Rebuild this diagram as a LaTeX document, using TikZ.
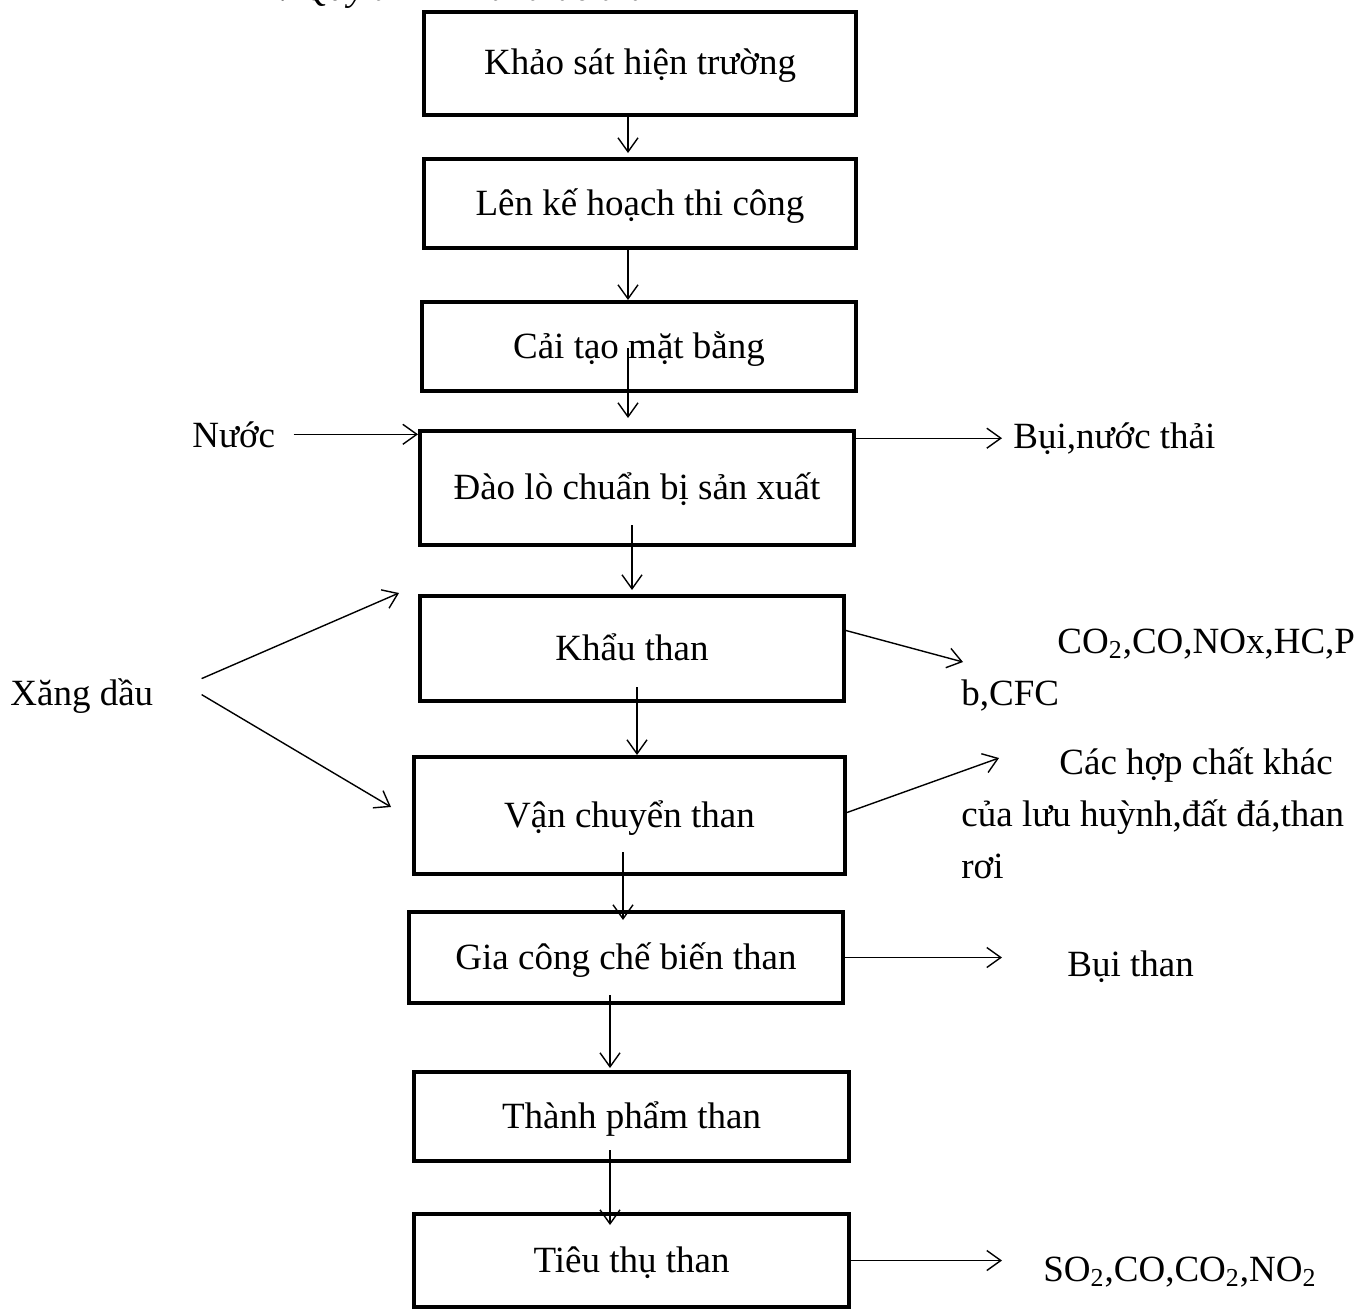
\documentclass[tikz,border=0pt]{standalone}
\usepackage{fontspec}
\setmainfont{Liberation Serif}
\usetikzlibrary{arrows.meta,calc}

\tikzset{
  procbox/.style={draw, line width=2.2pt, inner sep=0pt, text height=15pt, text depth=3.5pt},
  side/.style={inner sep=0pt, anchor=base west},
  arr/.style={-{Straight Barb[length=7pt,width=10pt]}, line width=0.7pt},
}

\begin{document}
\begin{tikzpicture}
[x=0.5pt,y=-0.5pt,every node/.style={font=\fontsize{18.5}{26}\selectfont}]
  \useasboundingbox (0,0) rectangle (1368,1311);

  % caption, cut off by the page edge
  \node[side,font=\fontsize{18.5}{26}\selectfont\itshape] (title) at (176,1) {Hình 1: Quy trình khai thác than};

  % the steps
  \node[procbox,minimum width=215.8pt,minimum height=51.3pt] (b1) at (640,63.5)  {Khảo sát hiện trường};
  \node[procbox,minimum width=215.8pt,minimum height=44.3pt] (b2) at (640,203.5) {Lên kế hoạch thi công};
  \node[procbox,minimum width=216.8pt,minimum height=44.3pt] (b3) at (639,346.5) {Cải tạo mặt bằng};
  \node[procbox,minimum width=216.8pt,minimum height=56.8pt] (b4) at (637,488)   {Đào lò chuẩn bị sản xuất};
  \node[procbox,minimum width=211.8pt,minimum height=52.3pt] (b5) at (632,648.5) {Khẩu than};
  \node[procbox,minimum width=215.3pt,minimum height=58.3pt] (b6) at (629.5,815.5) {Vận chuyển than};
  \node[procbox,minimum width=216.8pt,minimum height=45.3pt] (b7) at (626,957.5) {Gia công chế biến than};
  \node[procbox,minimum width=217.3pt,minimum height=44.3pt] (b8) at (631.5,1116.5) {Thành phẩm than};
  \node[procbox,minimum width=217.3pt,minimum height=46.3pt] (b9) at (631.5,1260.5) {Tiêu thụ than};

  % inputs and outputs
  \node[side] (nuoc) at (192,447)  {Nước};
  \node[side] (bui1) at (1013,448) {Bụi,nước thải};
  \node[side] (xang) at (10,705)   {Xăng dầu};
  \node[side,align=left] (co) at (961,705)
    {\hspace*{48pt}CO\textsubscript{2},CO,NOx,HC,P\\b,CFC};
  \node[side,align=left] (cac) at (961,878)
    {\hspace*{49pt}Các hợp chất khác\\của lưu huỳnh,đất đá,than\\rơi};
  \node[side] (buithan) at (1067,976) {Bụi than};
  \node[side] (so) at (1043,1281)
    {SO\textsubscript{2},CO,CO\textsubscript{2},NO\textsubscript{2}};

  % starts of the down arrows
  \coordinate (s1) at (628,117);
  \coordinate (s2) at (628,250);
  \coordinate (s3) at (628,348);
  \coordinate (s4) at (632,525);
  \coordinate (s5) at (637,687);
  \coordinate (s6) at (623,852);
  \coordinate (s7) at (610,995);
  \coordinate (s8) at (610,1150);

  \foreach \from/\to/\d in {s1/b2/-4,s2/b3/0,s3/b4/-11,s4/b5/-4,s5/b6/0,s6/b7/10,s7/b8/-2,s8/b9/13}
    \draw[arr] (\from) -- ($(\to.north -| \from)+(0,\d)$);

  % free ends of the side arrows
  \coordinate (e1) at (399,593);
  \coordinate (e2) at (391,807);
  \coordinate (e3) at (963,662);
  \coordinate (e4) at (999,758);

  \draw[arr] ($(nuoc.east)+(18,0)$) -- (nuoc.east -| b4.west);
  \draw[arr] (bui1.west -| b4.east) -- ($(bui1.west)+(-11,0)$);
  \draw[arr] ($(xang.east)+(48,-17)$) -- (e1);
  \draw[arr] ($(xang.east)+(48,-1)$) -- (e2);
  \draw[arr] ($(b5.east)+(0,-18)$) -- (e3);
  \draw[arr] ($(b6.east)+(0,-3)$) -- (e4);
  \draw[arr] (b7.east) -- ($(b7.east -| buithan.west)+(-65,0)$);
  \draw[arr] (b9.east) -- ($(b9.east -| so.west)+(-41,0)$);
\end{tikzpicture}
\end{document}
